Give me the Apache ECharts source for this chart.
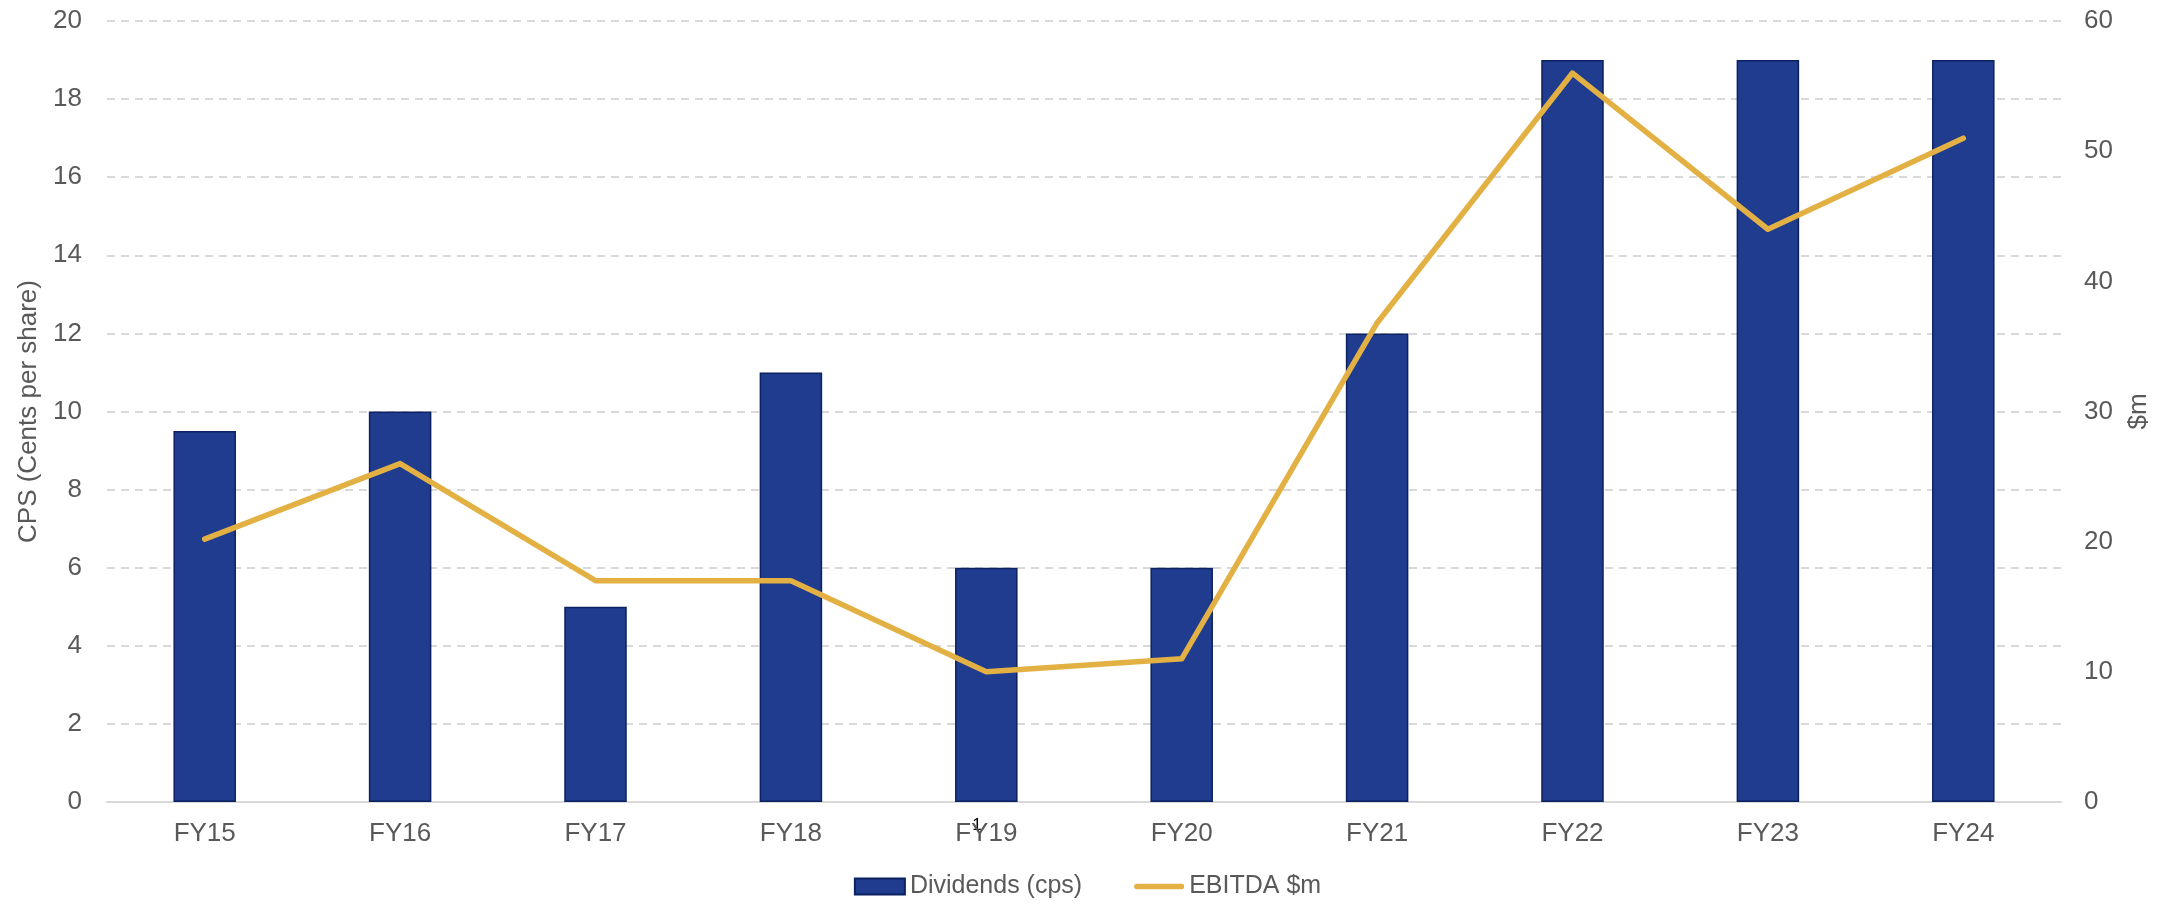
<!DOCTYPE html>
<html>
<head>
<meta charset="utf-8">
<script src="https://cdn.jsdelivr.net/npm/echarts@6/dist/echarts.min.js"></script>
<style>html,body{margin:0;padding:0;background:#fff;}#c{width:2175px;height:904px;}</style>
</head>
<body>
<div id="c"></div>
<script>
const categories = ['FY15','FY16','FY17','FY18','FY19','FY20','FY21','FY22','FY23','FY24'];
const dividends = [9.5, 10, 5, 11, 6, 6, 12, 19, 19, 19];
const ebitda = [20.2, 26, 17, 17, 10, 11, 36.8, 56, 44, 51];
const leftTicks = {min: 0, max: 20, interval: 2};
const rightTicks = {min: 0, max: 60, interval: 10};

const font = 'Liberation Sans, Arial, sans-serif';
const grey = '#595959';
const chart = echarts.init(document.getElementById('c'), null, {renderer: 'canvas'});
chart.setOption({
  backgroundColor: '#fff',
  animation: false,
  textStyle: {fontFamily: font},
  grid: {left: 107, right: 114, top: 21, bottom: 102, containLabel: false},
  legend: {
    bottom: 0, left: 'center',
    itemWidth: 50, itemHeight: 16, itemGap: 52,
    textStyle: {fontSize: 25, color: grey, fontFamily: font},
    data: [
      {name: 'Dividends (cps)', icon: 'rect'},
      {name: 'EBITDA $m', icon: 'path://M3,0 L50,0 A3,3 0 0 1 50,6 L3,6 A3,3 0 0 1 3,0 Z'}
    ]
  },
  xAxis: {
    type: 'category', data: categories,
    axisLine: {show: true, lineStyle: {color: '#d9d9d9', width: 2}},
    axisTick: {show: false},
    axisLabel: {fontSize: 26, color: grey, margin: 19, fontFamily: font}
  },
  yAxis: [
    {
      type: 'value', min: leftTicks.min, max: leftTicks.max, interval: leftTicks.interval,
      name: 'CPS (Cents per share)', nameLocation: 'middle', nameGap: 60, nameRotate: 90,
      nameTextStyle: {fontSize: 26, color: grey, fontFamily: font},
      axisLine: {show: false}, axisTick: {show: false},
      axisLabel: {fontSize: 26, color: grey, margin: 25, fontFamily: font},
      splitLine: {show: true, lineStyle: {color: '#d9d9d9', type: [8, 6], width: 2}}
    },
    {
      type: 'value', min: rightTicks.min, max: rightTicks.max, interval: rightTicks.interval,
      name: '$m', nameLocation: 'middle', nameGap: 65, nameRotate: 90,
      nameTextStyle: {fontSize: 26, color: grey, fontFamily: font},
      axisLine: {show: false}, axisTick: {show: false},
      axisLabel: {fontSize: 26, color: grey, margin: 23, fontFamily: font},
      splitLine: {show: false}
    }
  ],
  series: [
    {
      name: 'Dividends (cps)', type: 'bar', data: dividends, yAxisIndex: 0,
      barWidth: '32%',
      itemStyle: {color: '#1f3c8f', borderColor: '#0c2260', borderWidth: 1.5}
    },
    {
      name: 'EBITDA $m', type: 'line', data: ebitda, yAxisIndex: 1,
      symbol: 'none', lineStyle: {color: '#e3b143', width: 5.5, cap: 'round', join: 'round'},
      itemStyle: {color: '#e3b143'}
    }
  ]
});
// footnote marker on FY19 label
const p = chart.convertToPixel({xAxisIndex: 0, yAxisIndex: 0}, ['FY19', 0]);
chart.setOption({
  graphic: [{
    type: 'text', left: p[0] - 14, top: p[1] + 15,
    style: {text: '1', fontSize: 17, fill: '#000', fontFamily: font}
  }]
});
</script>
</body>
</html>
